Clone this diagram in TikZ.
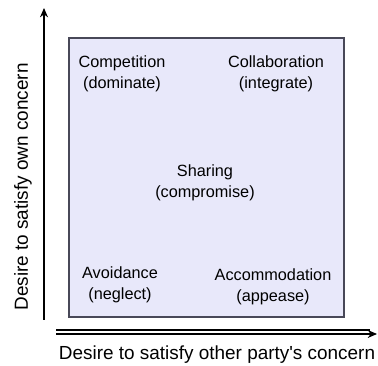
\documentclass[tikz,border=0pt]{standalone}
\usepackage{xcolor}
\usepackage{fontspec}
\setmainfont{Liberation Sans}
\usepackage{tikz}
\usetikzlibrary{arrows.meta}

\definecolor{boxfill}{RGB}{232,232,250}
\definecolor{boxline}{RGB}{72,72,88}

\begin{document}
\begin{tikzpicture}[x=0.75pt,y=0.75pt,yscale=-1,xscale=1,
  mode/.style={anchor=center,inner sep=0.75pt,align=center,font=\fontsize{12.2}{15.6}\selectfont},
  axislabel/.style={inner sep=0.75pt,font=\fontsize{14.2}{17}\selectfont}]
\useasboundingbox (0,0) rectangle (378,366);

%Shape: Rectangle [id:box]
\draw [color=boxline, fill=boxfill, line width=1.1] (69,38) rectangle (344,317) ;

%Coordinates for the axes
\coordinate (ytop) at (44,8);
\coordinate (ybot) at (44,320);
\coordinate (xleft) at (56,332);
\coordinate (xright) at (377,332);

%Straight Lines [id:yaxis]
\draw [line width=1, -{Stealth[length=7,width=6]}] (ybot) -- (ytop) ;
%Straight Lines [id:xaxis] double line
\draw [line width=0.9] ([yshift=-1.5]xleft) -- ([yshift=-1.5,xshift=-5]xright) ;
\draw [line width=0.9, -{Stealth[length=7,width=6]}] ([yshift=1.5]xleft) -- ([yshift=1.5]xright) ;

% Text Node
\draw (122,74) node [mode] (competition) {Competition\\(dominate)};
% Text Node
\draw (276,74) node [mode] (collaboration) {Collaboration\\(integrate)};
% Text Node
\draw (205,183) node [mode] (sharing) {Sharing\\(compromise)};
% Text Node
\draw (120,285) node [mode] (avoidance) {Avoidance\\(neglect)};
% Text Node
\draw (273,287) node [mode] (accommodation) {Accommodation\\(appease)};

% Text Node
\draw (23,187) node [axislabel, rotate=90] (ownlabel) {Desire to satisfy own concern};
% Text Node
\draw (217,355) node [axislabel] (otherlabel) {Desire to satisfy other party\textquotesingle s concern};

\end{tikzpicture}
\end{document}
